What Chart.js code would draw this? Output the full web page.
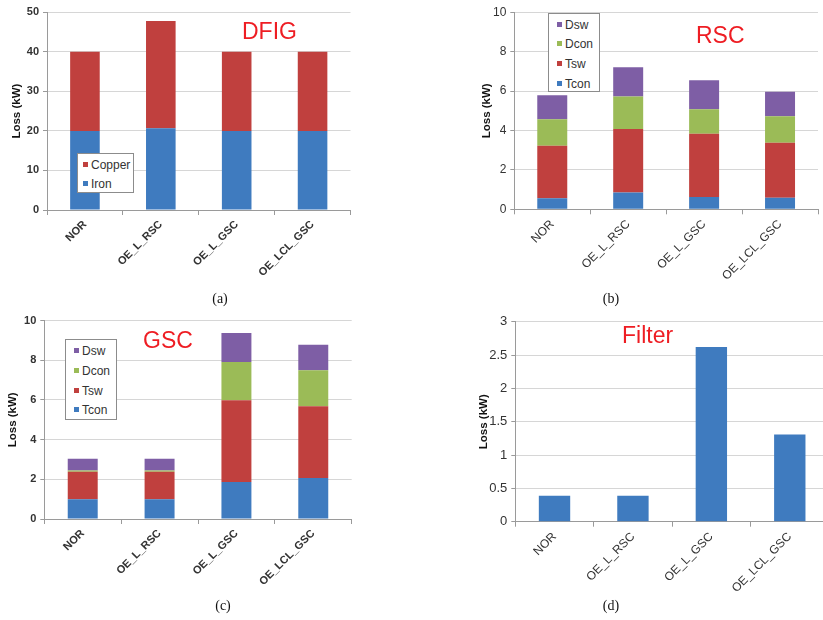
<!DOCTYPE html>
<html>
<head>
<meta charset="utf-8">
<script src="https://cdn.jsdelivr.net/npm/chart.js@4.4.1/dist/chart.umd.min.js"></script>
<style>
  html, body { margin: 0; padding: 0; background: #fff; overflow: hidden; }
  body { width: 823px; height: 620px; position: relative; }
  canvas { position: absolute; }
  .tag { position: absolute; font-family: "Liberation Sans", Arial, sans-serif; font-size: 23px; line-height: 1; color: #ee1d23; white-space: nowrap; }
  .cap { position: absolute; width: 40px; text-align: center; font-family: "Liberation Serif", "Times New Roman", serif; font-size: 14px; line-height: 1; color: #111; }
  .legend { position: absolute; box-sizing: border-box; border: 1px solid #8c8c8c; background: #fff; font-family: "Liberation Sans", Arial, sans-serif; font-size: 12px; color: #333; }
  .legend div { position: absolute; white-space: nowrap; line-height: 1; }
  .legend span { display: inline-block; width: 5px; height: 5px; margin-right: 3px; vertical-align: 2px; }
</style>
</head>
<body>
<canvas id="chartA" width="360" height="300" style="left:0;top:0"></canvas>
<canvas id="chartB" width="363" height="300" style="left:460px;top:0"></canvas>
<canvas id="chartC" width="360" height="300" style="left:0;top:310px"></canvas>
<canvas id="chartD" width="375" height="300" style="left:460px;top:310px"></canvas>

<div class="tag" style="left:242px;top:20px">DFIG</div>
<div class="tag" style="left:696px;top:24px">RSC</div>
<div class="tag" style="left:143px;top:329px">GSC</div>
<div class="tag" style="left:622px;top:324px">Filter</div>

<div class="cap" style="left:200px;top:292px">(a)</div>
<div class="cap" style="left:591px;top:292px">(b)</div>
<div class="cap" style="left:203px;top:599px">(c)</div>
<div class="cap" style="left:591px;top:599px">(d)</div>

<script>
const categories = ['NOR', 'OE_L_RSC', 'OE_L_GSC', 'OE_LCL_GSC'];

// (a) DFIG losses, kW
const dfigIron = [20, 20.7, 20, 20];
const dfigCopper = [20, 27.1, 20, 20];

// (b) RSC losses, kW
const rscTcon = [0.56, 0.85, 0.63, 0.58];
const rscTsw = [2.67, 3.23, 3.21, 2.80];
const rscDcon = [1.34, 1.64, 1.24, 1.34];
const rscDsw = [1.22, 1.49, 1.47, 1.25];

// (c) GSC losses, kW
const gscTcon = [1.0, 1.0, 1.87, 2.07];
const gscTsw = [1.38, 1.38, 4.12, 3.61];
const gscDcon = [0.06, 0.06, 1.92, 1.82];
const gscDsw = [0.6, 0.6, 1.47, 1.28];

// (d) filter loss, kW
const filterLoss = [0.39, 0.39, 2.62, 1.31];

const blue = '#3f7bbf', red = '#c0403e', green = '#9bbb57', purple = '#7e5ea5';
const FONT = "'Liberation Sans', Arial, sans-serif";

function lossChart(id, series, p) {
  return new Chart(document.getElementById(id), {
    type: 'bar',
    data: {
      labels: categories,
      datasets: series.map(s => ({
        label: s.label,
        data: s.data,
        backgroundColor: s.color,
        borderWidth: 0,
        categoryPercentage: 1,
        barPercentage: p.bar
      }))
    },
    options: {
      responsive: false,
      animation: false,
      layout: { padding: { top: p.top, right: p.right, left: 0, bottom: 0 } },
      plugins: { legend: { display: false }, tooltip: { enabled: false } },
      scales: {
        x: {
          stacked: true,
          grid: { drawOnChartArea: false, drawTicks: true, tickLength: 5, color: '#9a9a9a', offset: true },
          border: { color: '#9a9a9a' },
          ticks: {
            minRotation: 45, maxRotation: 45, padding: 3, color: '#333',
            font: { family: FONT, size: p.xfont, weight: p.weight }
          },
          afterFit: s => { s.height = p.xh; }
        },
        y: {
          stacked: true,
          min: 0,
          max: p.max,
          grid: { color: '#d6d6d6', tickLength: 4, tickColor: '#9a9a9a' },
          border: { color: '#9a9a9a' },
          ticks: {
            stepSize: p.step, padding: 4, color: '#333',
            font: { family: FONT, size: p.yfont, weight: p.weight },
            callback: v => String(v)
          },
          title: {
            display: true, text: 'Loss (kW)', color: '#111',
            padding: { top: p.tpad, bottom: 0 },
            font: { family: FONT, size: 11.5, weight: 'bold' }
          },
          afterFit: s => { s.width = p.yw; }
        }
      }
    }
  });
}

function addLegend(series, box, rows) {
  const el = document.createElement('div');
  el.className = 'legend';
  el.style.left = box.x + 'px';
  el.style.top = box.y + 'px';
  el.style.width = box.w + 'px';
  el.style.height = box.h + 'px';
  series.slice().reverse().forEach((s, i) => {
    const row = document.createElement('div');
    row.style.left = box.pad + 'px';
    row.style.top = rows[i] + 'px';
    row.innerHTML = `<span style="background:${s.color}"></span>${s.label}`;
    el.appendChild(row);
  });
  document.body.appendChild(el);
}

const seriesA = [
  { label: 'Iron', data: dfigIron, color: blue },
  { label: 'Copper', data: dfigCopper, color: red }
];
const seriesB = [
  { label: 'Tcon', data: rscTcon, color: blue },
  { label: 'Tsw', data: rscTsw, color: red },
  { label: 'Dcon', data: rscDcon, color: green },
  { label: 'Dsw', data: rscDsw, color: purple }
];
const seriesC = [
  { label: 'Tcon', data: gscTcon, color: blue },
  { label: 'Tsw', data: gscTsw, color: red },
  { label: 'Dcon', data: gscDcon, color: green },
  { label: 'Dsw', data: gscDsw, color: purple }
];
const seriesD = [
  { label: 'Loss', data: filterLoss, color: blue }
];

lossChart('chartA', seriesA, { bar: 0.39, top: 12.3, right: 9.5, yw: 47, xh: 90, max: 50, step: 10, xfont: 11, yfont: 11, weight: 'bold', tpad: 10 });
lossChart('chartB', seriesB, { bar: 0.395, top: 12.3, right: 5, yw: 54.3, xh: 90.7, max: 10, step: 2, xfont: 12, yfont: 12, weight: 'normal', tpad: 20 });
lossChart('chartC', seriesC, { bar: 0.39, top: 9.3, right: 8.3, yw: 44.3, xh: 91, max: 10, step: 2, xfont: 11, yfont: 11, weight: 'bold', tpad: 6 });
lossChart('chartD', seriesD, { bar: 0.40, top: 7.3, right: 6, yw: 55.3, xh: 88.3, max: 3, step: 0.5, xfont: 12, yfont: 13, weight: 'normal', tpad: 17 });

addLegend(seriesA, { x: 77, y: 153, w: 57, h: 40, pad: 5 }, [5, 24]);
addLegend(seriesB, { x: 548, y: 13, w: 52, h: 79, pad: 8 }, [5, 24, 44, 64]);
addLegend(seriesC, { x: 65, y: 339, w: 52, h: 81, pad: 8 }, [5, 25, 45, 64]);
</script>
</body>
</html>
